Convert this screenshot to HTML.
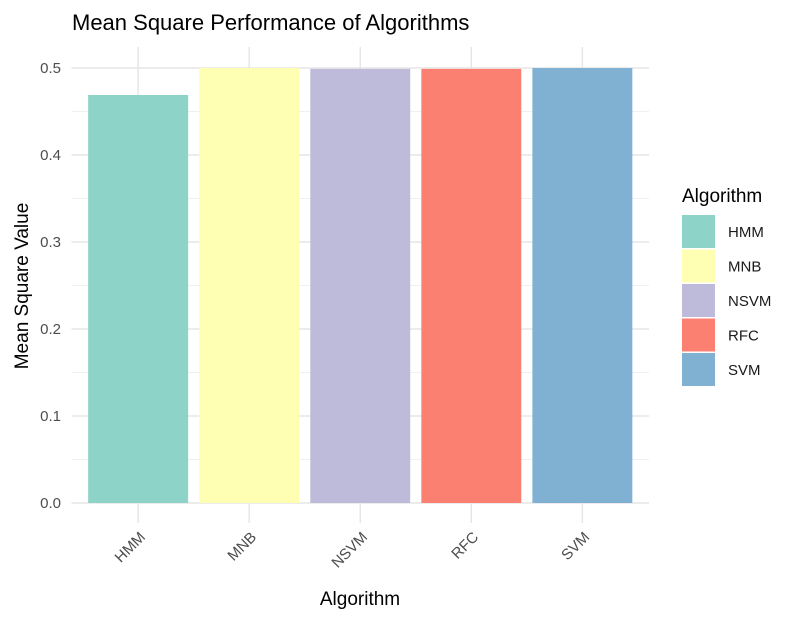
<!DOCTYPE html>
<html><head><meta charset="utf-8"><style>
body{margin:0;background:#fff}
svg{display:block;font-family:"Liberation Sans",Arial,sans-serif}
</style></head><body>
<svg id="chart" width="801" height="621" viewBox="0 0 801 621">
<rect width="801" height="621" fill="#fff"/>
<text x="72" y="30" font-size="22" fill="#000">Mean Square Performance of Algorithms</text>
<g id="grid"></g>
<g id="bars"></g>
<g id="axes"></g>
<text x="360" y="605" font-size="19" text-anchor="middle" fill="#000">Algorithm</text>
<text transform="translate(28,286) rotate(-90)" font-size="19" text-anchor="middle" fill="#000">Mean Square Value</text>
<g id="legend">
<text x="682" y="202" font-size="19" fill="#000">Algorithm</text>
</g>
</svg>
<script>
const categories = ["HMM","MNB","NSVM","RFC","SVM"];
const values = [0.469, 0.5, 0.499, 0.499, 0.5];
const colors = ["#8DD3C7","#FFFFB3","#BEBADA","#FB8072","#80B1D3"];
const yTicks = [0, 0.1, 0.2, 0.3, 0.4, 0.5];
const yTickLabels = ["0.0","0.1","0.2","0.3","0.4","0.5"];

const NS = "http://www.w3.org/2000/svg";
const pLeft = 71.5, pRight = 649, pTop = 47, pBottom = 523;
const y0px = 503, y5px = 68;
function yScale(v){ return y0px - v * (y0px - y5px) / 0.5; }
const band = (pRight - pLeft) / (categories.length + 0.2);
function xCenter(i){ return pLeft + band * (i + 0.6); }
function mk(tag, attrs, parent){
  const e = document.createElementNS(NS, tag);
  for (const k in attrs) e.setAttribute(k, attrs[k]);
  parent.appendChild(e);
  return e;
}
const gridG = document.getElementById('grid');
const barsG = document.getElementById('bars');
const axesG = document.getElementById('axes');
const legendG = document.getElementById('legend');

for (let i = 0; i < yTicks.length - 1; i++) {
  const v = (yTicks[i] + yTicks[i+1]) / 2;
  const l = mk('line', {x1:pLeft, x2:pRight, y1:yScale(v), y2:yScale(v), stroke:'#f0f0f0', 'stroke-width':1}, gridG);
  
  
}
yTicks.forEach((v, i) => {
  const y = yScale(v);
  const l = mk('line', {x1:pLeft, x2:pRight, y1:y, y2:y, stroke:'#e5e5e5', 'stroke-width':1.4}, gridG);
  
  
  const t = mk('text', {x:61, y:y+5, 'font-size':15, 'text-anchor':'end', fill:'#4d4d4d'}, axesG);
  t.textContent = yTickLabels[i];
  
  
});
categories.forEach((c, i) => {
  const cx = xCenter(i);
  const l = mk('line', {x1:cx, x2:cx, y1:pTop, y2:pBottom, stroke:'#e5e5e5', 'stroke-width':1.4}, gridG);
  
  
  const w = band * 0.9;
  const r = mk('rect', {x:cx - w/2, y:yScale(values[i]), width:w, height:yScale(0) - yScale(values[i]), fill:colors[i]}, barsG);
  
  
  const t = mk('text', {transform:'translate(' + (cx+8) + ',538) rotate(-45)', 'font-size':15, 'text-anchor':'end', fill:'#4d4d4d'}, axesG);
  t.textContent = c;
  
  
  const ly = 215 + i * 34.5;
  const lr = mk('rect', {x:682, y:ly, width:33, height:33, fill:colors[i]}, legendG);
  
  
  const lt = mk('text', {x:728, y:ly + 22, 'font-size':15, fill:'#1a1a1a'}, legendG);
  lt.textContent = c;
  
  
});
</script>
</body></html>
